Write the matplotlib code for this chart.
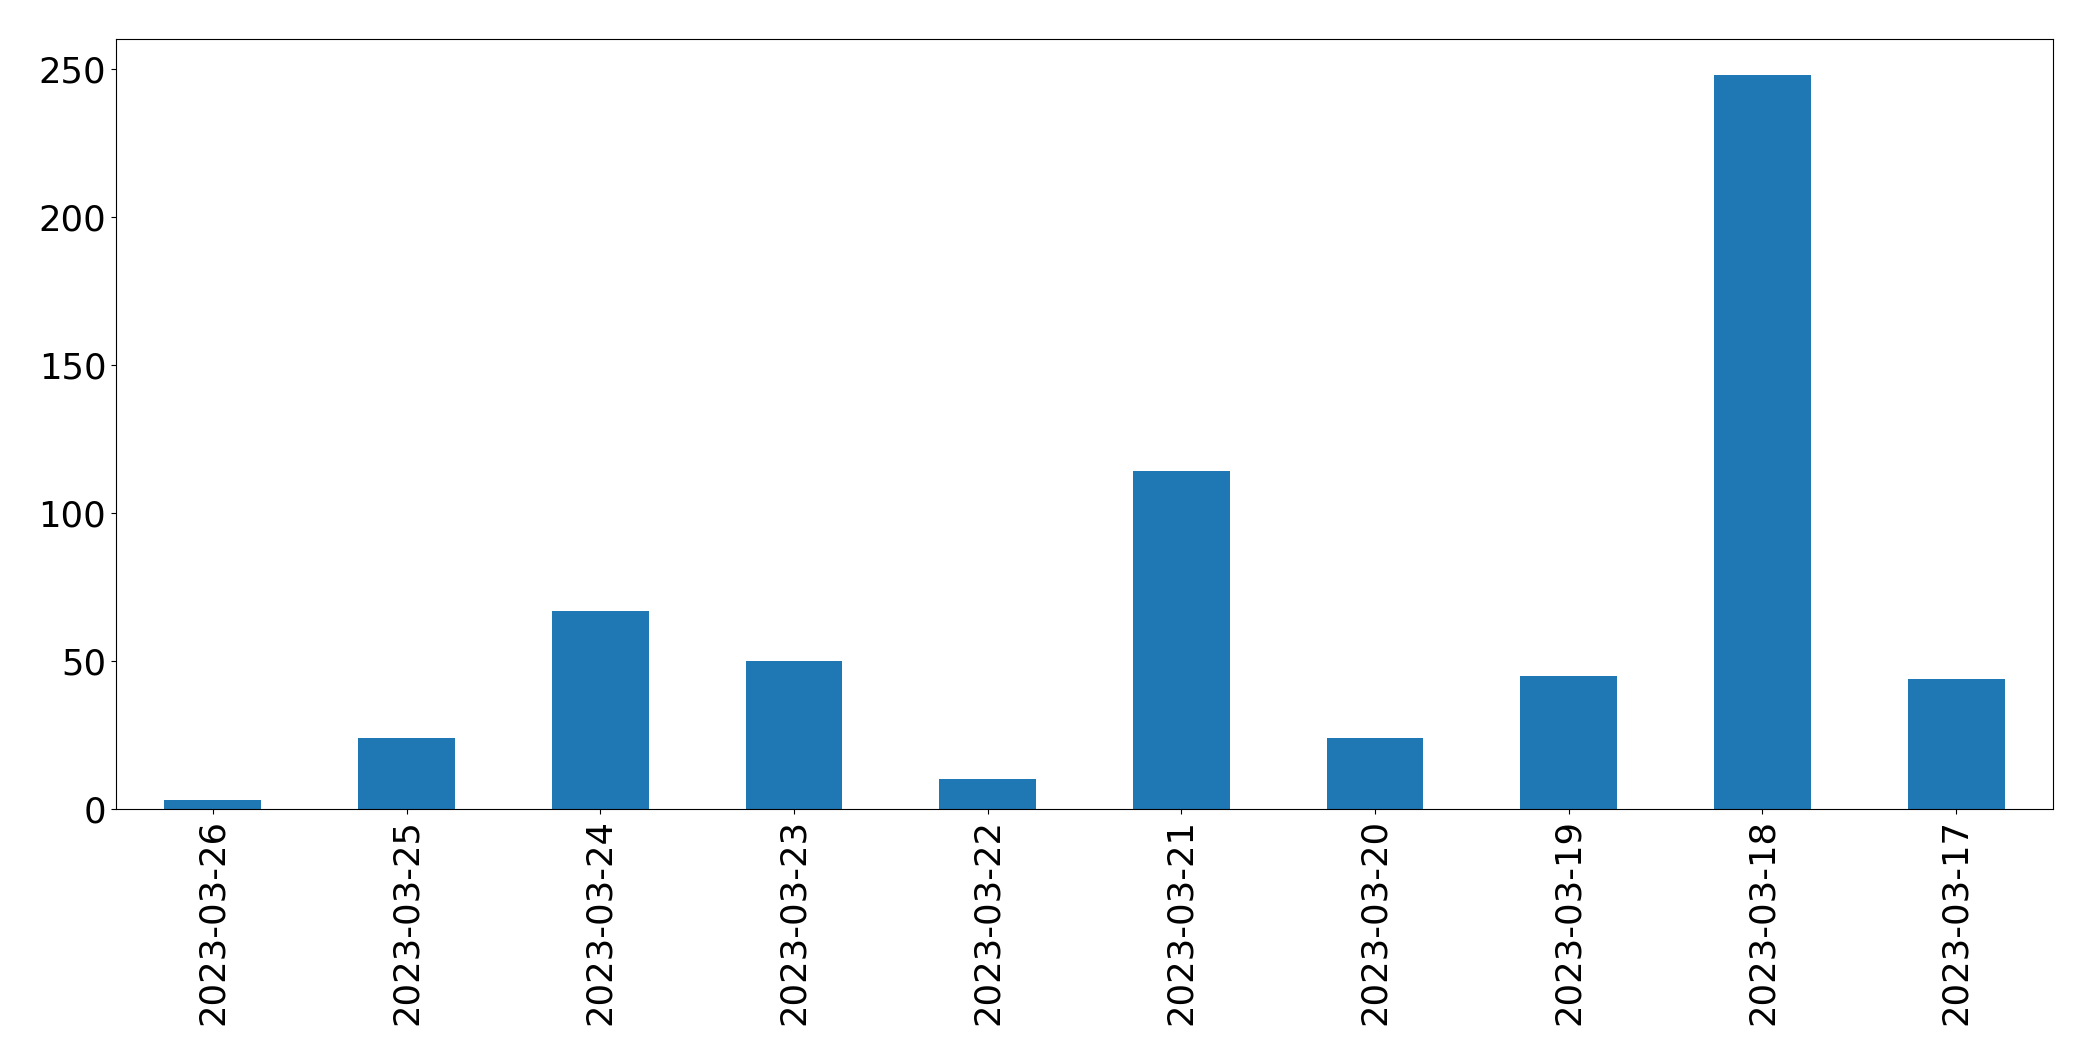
import matplotlib
matplotlib.use('Agg')
import matplotlib.pyplot as plt
import numpy as np

# dates in the order they appear on the x axis
dates = ['2023-03-26', '2023-03-25', '2023-03-24', '2023-03-23', '2023-03-22',
         '2023-03-21', '2023-03-20', '2023-03-19', '2023-03-18', '2023-03-17']
counts = [3, 24, 67, 50, 10, 114, 24, 45, 248, 44]

fig, ax = plt.subplots(figsize=(20.93, 10.61), dpi=100)
x = np.arange(len(dates))
ax.bar(x, counts, width=0.5, color='#1f77b4')
ax.set_xlim(-0.5, len(dates) - 0.5)
ax.set_ylim(0, 260)
ax.set_xticks(x)
ax.set_xticklabels(dates, rotation=90)
ax.tick_params(axis='both', labelsize=25.5)

plt.subplots_adjust(left=116 / 2093, right=2053 / 2093, top=1 - 39 / 1061, bottom=1 - 809 / 1061)
plt.savefig('out.png', dpi=100)
